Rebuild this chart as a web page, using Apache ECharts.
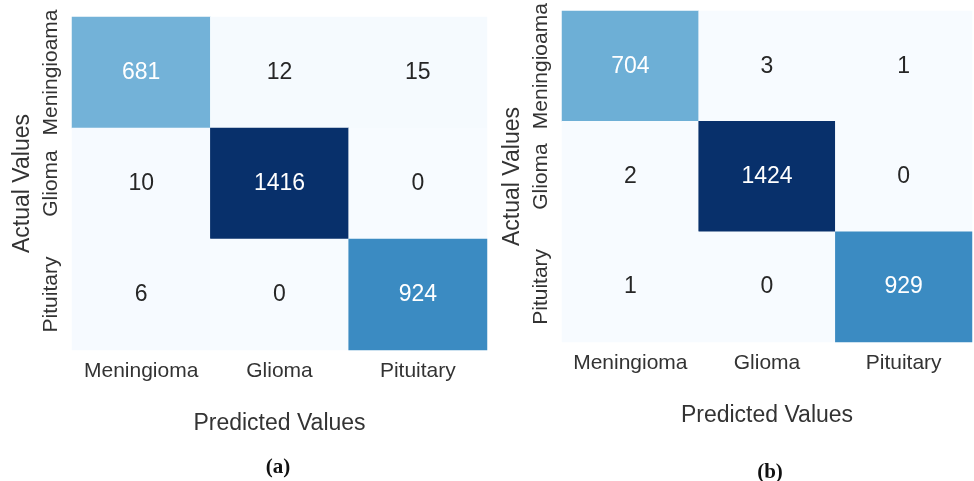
<!DOCTYPE html>
<html>
<head>
<meta charset="utf-8">
<script src="https://cdn.jsdelivr.net/npm/echarts@6/dist/echarts.min.js"></script>
<style>
  html, body { margin: 0; padding: 0; background: #ffffff; }
  #chart { width: 974px; height: 481px; }
</style>
</head>
<body>
<div id="chart"></div>
<script>
// Class labels shared by both confusion matrices
const predictedLabels = ['Meningioma', 'Glioma', 'Pituitary'];
const actualLabels = ['Meningioama', 'Glioma', 'Pituitary'];

// Confusion matrix counts, rows = actual class, columns = predicted class
const matrixA = [
  [681, 12, 15],
  [10, 1416, 0],
  [6, 0, 924]
];
const matrixB = [
  [704, 3, 1],
  [2, 1424, 0],
  [1, 0, 929]
];

const panelTitles = ['(a)', '(b)'];

// seaborn "Blues" colour ramp
const blues = ['#f7fbff', '#deebf7', '#c6dbef', '#9ecae1', '#6baed6', '#4292c6', '#2171b5', '#08519c', '#08306b'];

function toCells(m) {
  const out = [];
  m.forEach((row, r) => row.forEach((v, c) => out.push([c, r, v])));
  return out;
}
function maxOf(m) { return Math.max(...m.flat()); }
function minOf(m) { return Math.min(...m.flat()); }

const textColor = '#333333';
const font = '"Liberation Sans", Arial, sans-serif';

const grids = [
  { left: 72, top: 17, width: 415, height: 333 },
  { left: 562, top: 11, width: 410, height: 331 }
];

function xAxisFor(i) {
  return {
    type: 'category', gridIndex: i, data: predictedLabels,
    name: 'Predicted Values', nameLocation: 'middle', nameGap: 62,
    nameTextStyle: { fontSize: 23, color: textColor, fontFamily: font },
    axisLine: { show: false }, axisTick: { show: false }, splitLine: { show: false },
    axisLabel: { interval: 0, fontSize: 21, color: textColor, fontFamily: font, margin: 11 }
  };
}
function yAxisFor(i) {
  return {
    type: 'category', gridIndex: i, data: actualLabels, inverse: true,
    name: 'Actual Values', nameLocation: 'middle', nameGap: 38,
    nameTextStyle: { fontSize: 23, color: textColor, fontFamily: font },
    axisLine: { show: false }, axisTick: { show: false }, splitLine: { show: false },
    axisLabel: { interval: 0, fontSize: 21, color: textColor, fontFamily: font, margin: 10, rotate: 90 }
  };
}
function visualFor(i, m) {
  return {
    type: 'continuous', show: false, seriesIndex: i, dimension: 2,
    min: minOf(m), max: maxOf(m), inRange: { color: blues }
  };
}
function seriesFor(i, m) {
  const maxV = maxOf(m), minV = minOf(m);
  return {
    type: 'heatmap', xAxisIndex: i, yAxisIndex: i,
    label: {
      show: true, fontSize: 23, fontFamily: font,
      formatter: p => String(p.value[2])
    },
    emphasis: { disabled: true },
    // light text on dark cells, dark text on light ones
    data: toCells(m).map(d => ({
      value: d,
      label: { color: (d[2] - minV) / (maxV - minV) > 0.4 ? '#ffffff' : '#262626' }
    }))
  };
}

const chart = echarts.init(document.getElementById('chart'), null, { renderer: 'canvas' });
chart.setOption({
  backgroundColor: '#ffffff',
  animation: false,
  title: [
    { text: panelTitles[0], left: 273, top: 452, textAlign: 'center',
      textStyle: { fontSize: 21, fontWeight: 'bold', fontFamily: '"Liberation Serif", "Times New Roman", serif', color: '#111' } },
    { text: panelTitles[1], left: 765, top: 457, textAlign: 'center',
      textStyle: { fontSize: 21, fontWeight: 'bold', fontFamily: '"Liberation Serif", "Times New Roman", serif', color: '#111' } }
  ],
  grid: grids,
  xAxis: [xAxisFor(0), xAxisFor(1)],
  yAxis: [yAxisFor(0), yAxisFor(1)],
  visualMap: [visualFor(0, matrixA), visualFor(1, matrixB)],
  series: [seriesFor(0, matrixA), seriesFor(1, matrixB)]
});
</script>
</body>
</html>
